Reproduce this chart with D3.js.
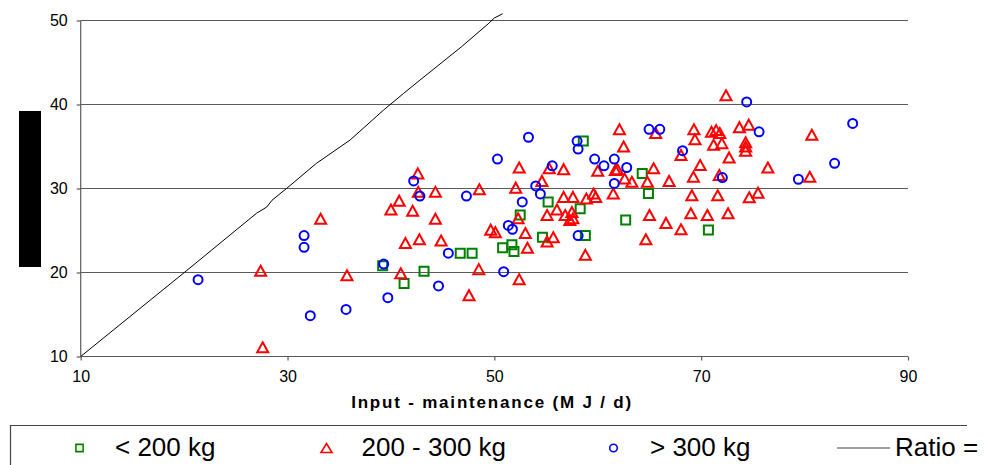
<!DOCTYPE html>
<html>
<head>
<meta charset="utf-8">
<script src="https://cdn.jsdelivr.net/npm/d3@7"></script>
<style>
  body { margin: 0; background: #fff; }
  svg { display: block; font-family: "Liberation Sans", Arial, sans-serif; }
</style>
</head>
<body>
<div id="chart"></div>
<script>
// data: [input - maintenance, y]
const lightCows = [
  [39.2, 20.8], [46.7, 22.3], [47.85, 22.3], [43.2, 20.15], [41.27, 18.7],
  [50.8, 22.95], [51.7, 23.3], [51.9, 22.5], [52.5, 26.85], [55.2, 28.4],
  [58.3, 27.6], [58.6, 35.65], [54.65, 24.2], [58.8, 24.4], [62.7, 26.25],
  [64.3, 31.8], [64.9, 29.4], [70.7, 25.05]
];
const midCows = [
  [27.4, 20.2], [27.6, 11.1], [33.2, 26.4], [35.75, 19.67], [40.0, 27.5],
  [40.8, 28.55], [42.1, 27.35], [44.3, 26.4], [41.4, 23.5], [42.75, 23.95],
  [44.85, 23.8], [48.5, 20.4], [40.95, 19.9], [47.55, 17.3], [49.65, 25.1],
  [50.1, 24.8], [42.6, 31.8], [42.65, 29.6], [44.3, 29.6], [48.55, 29.9],
  [52.4, 32.5], [52.07, 30.1], [54.6, 30.9], [55.3, 32.4], [56.7, 32.3],
  [56.7, 29.0], [57.6, 29.0], [58.9, 28.8], [59.6, 29.4], [59.8, 29.0],
  [56.05, 27.5], [56.85, 26.85], [57.5, 27.2], [57.6, 26.45], [57.3, 26.25],
  [55.1, 26.85], [52.3, 26.45], [60.0, 32.1], [61.7, 32.2], [61.9, 32.3],
  [62.1, 37.05], [62.5, 35.0], [62.6, 31.2], [63.3, 30.8], [61.5, 29.4],
  [64.8, 30.8], [65.4, 32.4], [66.9, 30.9], [65.6, 36.6], [68.05, 34.0],
  [69.3, 37.05], [69.4, 35.85], [69.25, 31.4], [69.1, 29.2], [69.0, 27.05],
  [65.0, 26.85], [66.6, 25.9], [68.05, 25.15], [64.65, 23.95], [58.8, 22.1],
  [55.7, 24.2], [55.1, 23.7], [53.2, 22.95], [53.0, 24.7], [52.4, 19.2],
  [72.4, 41.1], [71.0, 36.75], [71.45, 36.95], [71.8, 36.6], [73.7, 37.3],
  [74.6, 37.6], [71.2, 35.2], [72.0, 35.4], [74.3, 35.5], [74.3, 35.0],
  [74.3, 34.5], [72.7, 33.7], [69.9, 32.8], [76.45, 32.5], [71.75, 31.6],
  [80.7, 36.4], [80.5, 31.4], [71.6, 29.2], [74.65, 28.95], [75.5, 29.5],
  [70.6, 26.85], [72.6, 27.05]
];
const heavyCows = [
  [21.35, 19.14], [31.6, 24.4], [31.6, 23.0], [32.2, 14.86], [35.66, 15.6],
  [39.3, 21.0], [45.55, 22.3], [44.6, 18.4], [39.7, 17.0], [42.2, 30.9],
  [42.8, 29.1], [47.3, 29.1], [50.3, 33.5], [53.3, 36.1], [54.0, 30.3],
  [54.45, 29.35], [55.6, 32.7], [52.7, 28.4], [58.0, 35.65], [58.1, 34.7],
  [59.7, 33.5], [60.6, 32.7], [61.6, 33.5], [62.8, 32.5], [61.6, 30.6],
  [64.96, 37.05], [66.0, 37.05], [68.2, 34.5], [74.4, 40.3], [75.6, 36.75],
  [72.05, 31.3], [84.65, 37.75], [82.9, 33.0], [79.4, 31.1], [51.35, 25.6],
  [51.75, 25.15], [58.1, 24.4], [50.9, 20.1]
];
// ratio line as traced
const ratioLine = [
  [10, 10], [20.0, 19.98], [27.0, 27.05], [28.0, 27.8], [28.5, 28.6],
  [29.9, 30.0], [32.8, 33.0], [36.05, 35.77], [39.3, 39.35], [41.2, 41.3],
  [42.8, 42.9], [46.8, 46.85], [49.4, 49.6], [50.0, 50.3], [50.8, 50.8]
];
const xTicks = [10, 30, 50, 70, 90];
const yTicks = [10, 20, 30, 40, 50];
const legendLabels = ["< 200 kg", "200 - 300 kg", "> 300 kg", "Ratio ="];
const xTitle = "Input - maintenance (M J / d)";

const W = 984, H = 465;
const svg = d3.select("#chart").append("svg")
  .attr("width", W).attr("height", H);

const x = d3.scaleLinear().domain([10, 90]).range([80.7, 908]);
const y = d3.scaleLinear().domain([10, 50]).range([356.5, 20.5]);

// black block on the left (covered y title)
svg.append("rect").attr("x", 19).attr("y", 111).attr("width", 22).attr("height", 156).attr("fill", "#000");

// gridlines
svg.append("g").selectAll("line").data(yTicks.slice(1)).join("line")
  .attr("x1", x(10)).attr("x2", x(90))
  .attr("y1", d => y(d)).attr("y2", d => y(d))
  .attr("stroke", "#5a5a5a").attr("stroke-width", 1.2);

// axes
const yAxis = svg.append("g").attr("transform", `translate(${x(10)},0)`)
  .call(d3.axisLeft(y).tickValues(yTicks).tickSize(4).tickPadding(9));
const xAxis = svg.append("g").attr("transform", `translate(0,${y(10)})`)
  .call(d3.axisBottom(x).tickValues(xTicks).tickSize(4).tickPadding(10));
[yAxis, xAxis].forEach(g => {
  g.select(".domain").attr("stroke", "#5a5a5a").attr("stroke-width", 1.2);
  g.selectAll(".tick line").attr("stroke", "#5a5a5a").attr("stroke-width", 1.2);
  g.selectAll(".tick text").attr("font-size", 16).attr("fill", "#000")
    .attr("font-family", "'Liberation Sans', Arial, sans-serif");
});
yAxis.select(".domain").attr("d", `M0,${y(50)}V${y(10)}`);
xAxis.select(".domain").attr("d", `M${x(10)},0H${x(90)}`);

svg.append("text").attr("x", 492).attr("y", 408)
  .attr("text-anchor", "middle").attr("font-size", 17).attr("font-weight", "bold")
  .attr("letter-spacing", 1.8).text(xTitle);

// ratio line
svg.append("path").datum(ratioLine)
  .attr("d", d3.line().x(d => x(d[0])).y(d => y(d[1])))
  .attr("fill", "none").attr("stroke", "#000").attr("stroke-width", 1);

// markers
const sq = s => `M${-s},${-s}H${s}V${s}H${-s}Z`;
const tri = (w, h) => `M0,${-h / 2}L${w / 2},${h / 2}L${-w / 2},${h / 2}Z`;

svg.append("g").selectAll("path").data(lightCows).join("path")
  .attr("transform", d => `translate(${x(d[0])},${y(d[1])})`)
  .attr("d", sq(4.5)).attr("fill", "none").attr("stroke", "#008000").attr("stroke-width", 2);
svg.append("g").selectAll("path").data(midCows).join("path")
  .attr("transform", d => `translate(${x(d[0])},${y(d[1])})`)
  .attr("d", tri(11, 10)).attr("fill", "none").attr("stroke", "#ff0000")
  .attr("stroke-width", 2).attr("stroke-linejoin", "miter");
svg.append("g").selectAll("circle").data(heavyCows).join("circle")
  .attr("cx", d => x(d[0])).attr("cy", d => y(d[1])).attr("r", 4.5)
  .attr("fill", "none").attr("stroke", "#0000ff").attr("stroke-width", 2);

// legend
const lg = svg.append("g");
lg.append("path").attr("d", "M10.5,465V425.5H967").attr("fill", "none")
  .attr("stroke", "#444").attr("stroke-width", 1.2);
const ly = 448;
lg.append("path").attr("transform", `translate(79.5,${ly})`).attr("d", sq(3.6))
  .attr("fill", "none").attr("stroke", "#008000").attr("stroke-width", 1.6);
lg.append("path").attr("transform", `translate(326.5,${ly})`).attr("d", tri(11, 9))
  .attr("fill", "none").attr("stroke", "#ff0000").attr("stroke-width", 1.6);
lg.append("circle").attr("cx", 613.5).attr("cy", ly).attr("r", 3.8)
  .attr("fill", "none").attr("stroke", "#0000ff").attr("stroke-width", 1.6);
lg.append("line").attr("x1", 837).attr("x2", 890).attr("y1", ly).attr("y2", ly)
  .attr("stroke", "#808080").attr("stroke-width", 1.5);
const lx = [115, 361.5, 650, 895];
lg.selectAll("text").data(legendLabels).join("text")
  .attr("x", (d, i) => lx[i]).attr("y", 456)
  .attr("font-size", 26).attr("fill", "#000").text(d => d);
</script>
</body>
</html>
